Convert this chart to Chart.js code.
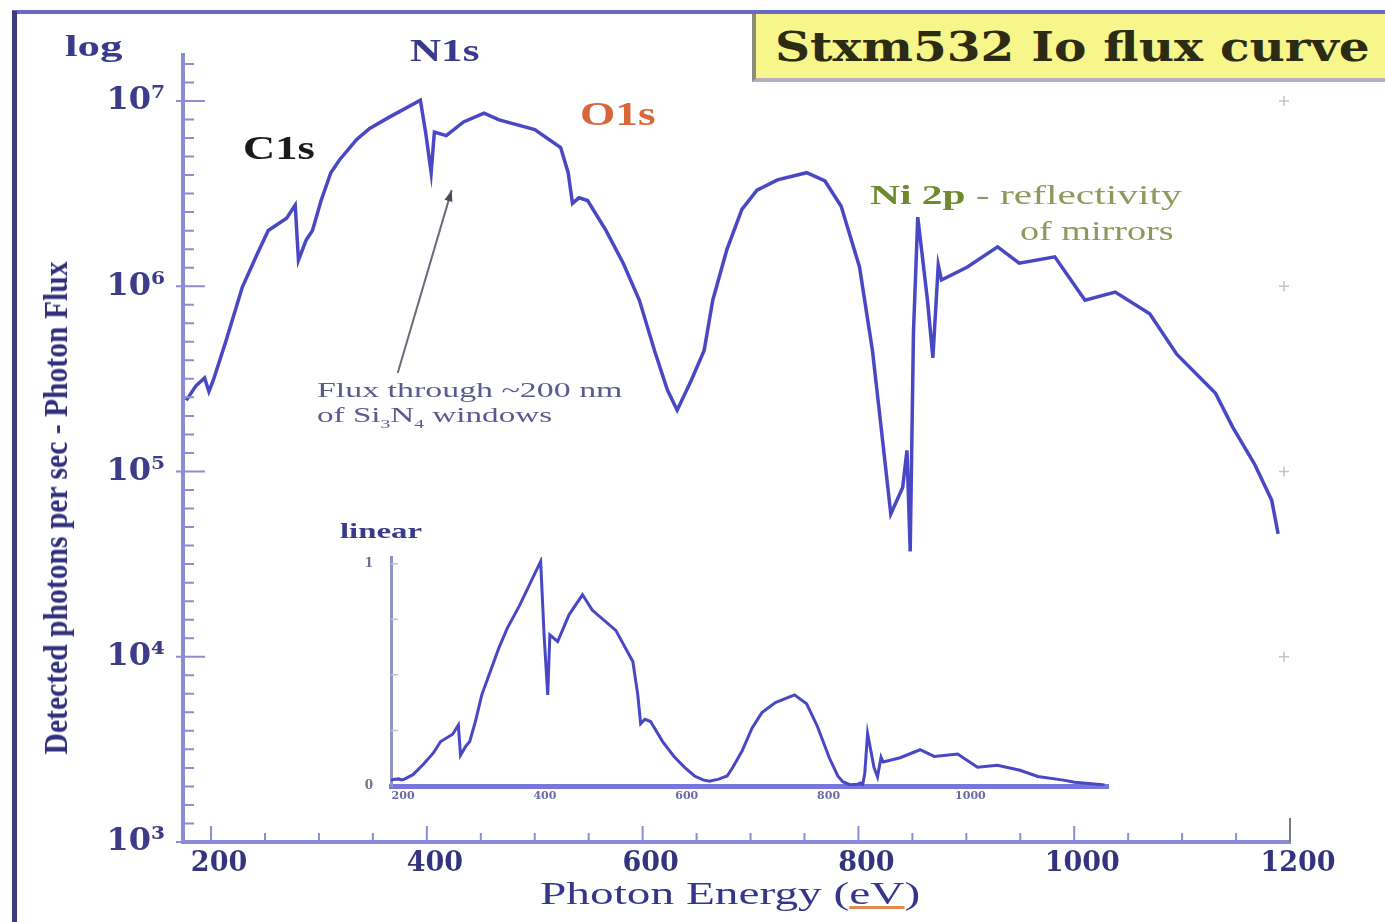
<!DOCTYPE html>
<html>
<head>
<meta charset="utf-8">
<script src="https://cdn.jsdelivr.net/npm/chart.js@4.4.0/dist/chart.umd.min.js"></script>
<style>
  body { margin: 0; background: #fff; }
  #wrap { position: relative; width: 1385px; height: 922px; overflow: hidden; background: #fff; }
  canvas { position: absolute; }
  #main { left: 0; top: 0; }
  #inset { left: 330px; top: 500px; }
  .frameLeft { position: absolute; left: 12px; top: 11px; width: 5px; height: 911px; background: #3c3c80; }
  .frameTop { position: absolute; left: 12px; top: 10px; width: 1373px; height: 4px; background: #6a6ac4; }
  #titleBox { position: absolute; left: 752px; top: 14px; width: 633px; height: 64px;
    background: #f6f68a; border-left: 4px solid #8c8c78; border-bottom: 4px solid #b6aec0; }
  .note { position: absolute; white-space: nowrap; transform-origin: left center; line-height: 1; }
  #yTitle { transform-origin: center center; }
  .serif { font-family: "Liberation Serif", "DejaVu Serif", serif; }
  .wide { font-family: "DejaVu Serif", serif; }
</style>
</head>
<body>
<div id="wrap">
  <canvas id="main" width="1385" height="922"></canvas>
  <canvas id="inset" width="800" height="320"></canvas>
  <div class="frameTop"></div>
  <div class="frameLeft"></div>
  <div id="titleBox"></div>

  <div class="note wide" data-x="775" data-y="47" data-w="595" style="font-size:41px;font-weight:bold;color:#2c2c14">Stxm532 Io flux curve</div>
  <div class="note serif" data-x="65" data-y="46" data-w="57" style="font-size:30px;font-weight:bold;color:#3a3a8c">log</div>
  <div class="note serif" data-x="410" data-y="50" data-w="70" style="font-size:32px;font-weight:bold;color:#3a3a8c">N1s</div>
  <div class="note serif" data-x="243" data-y="148" data-w="72" style="font-size:34px;font-weight:bold;color:#1a1a1a">C1s</div>
  <div class="note serif" data-x="580" data-y="114" data-w="76" style="font-size:34px;font-weight:bold;color:#d8663a">O1s</div>
  <div class="note serif" data-x="870" data-y="195" data-w="312" style="font-size:28px;color:#8c9a5c"><b style="color:#6f8a2e">Ni 2p</b> - reflectivity</div>
  <div class="note serif" data-x="1020" data-y="231" data-w="154" style="font-size:28px;color:#8c9a5c">of mirrors</div>
  <div class="note serif" data-x="317" data-y="390" data-w="305" style="font-size:22px;color:#5a5a8c">Flux through ~200 nm</div>
  <div class="note serif" data-x="317" data-y="417" data-w="235" style="font-size:22px;color:#5a5a8c">of Si<sub style="font-size:13px">3</sub>N<sub style="font-size:13px">4</sub> windows</div>
  <div class="note serif" data-x="340" data-y="531" data-w="82" style="font-size:22px;font-weight:bold;color:#3a3a8c">linear</div>
  <div class="note serif" data-x="540" data-y="893" data-w="380" style="font-size:32px;color:#35358c">Photon Energy (<span style="text-decoration:underline;text-decoration-color:#e08a50">eV</span>)</div>
  <div class="note serif" id="yTitle" style="font-size:34px;font-weight:bold;color:#30307e">Detected photons per sec - Photon Flux</div>
</div>

<script>
// Io flux of the beamline, read as photon energy (eV) vs detected photons per second
const energy = [177, 186, 194, 198, 202, 214, 229, 243, 253, 270, 278, 281, 288, 294, 302, 311, 319,
  335, 347, 364, 394, 399, 404, 407, 418, 434, 453, 467, 500, 524, 531, 535, 541, 549, 566, 582,
  597, 611, 623, 632, 645, 657, 665, 678, 692, 706, 725, 752, 769, 784, 801, 813, 820, 830, 841,
  845, 848, 851, 855, 864, 869, 874, 877, 901, 929, 949, 982, 1010, 1038, 1070, 1095, 1131, 1147,
  1167, 1183, 1189];
const flux = [2.42e5, 2.9e5, 3.2e5, 2.7e5, 3.1e5, 5.1e5, 9.9e5, 1.5e6, 2.0e6, 2.33e6, 2.74e6, 1.38e6,
  1.77e6, 2.0e6, 2.9e6, 4.1e6, 4.8e6, 6.2e6, 7.1e6, 8.1e6, 1.01e7, 6.7e6, 4.1e6, 6.8e6, 6.5e6,
  7.7e6, 8.6e6, 7.9e6, 7.0e6, 5.6e6, 4.1e6, 2.8e6, 3.0e6, 2.9e6, 2.0e6, 1.33e6,
  8.4e5, 4.5e5, 2.75e5, 2.14e5, 3.1e5, 4.5e5, 8.4e5, 1.57e6, 2.6e6, 3.3e6, 3.75e6, 4.1e6, 3.7e6,
  2.7e6, 1.27e6, 4.5e5, 1.96e5, 5.9e4, 8.2e4, 1.3e5, 3.7e4, 5.6e5, 2.36e6, 8.4e5, 4.1e5, 1.3e6,
  1.08e6, 1.27e6, 1.63e6, 1.33e6, 1.44e6, 8.4e5, 9.3e5, 7.1e5, 4.3e5, 2.64e5, 1.73e5, 1.1e5,
  7.0e4, 4.6e4];

// axis ticks
const xMajor = [200, 400, 600, 800, 1000, 1200];
const yDecades = [1e3, 1e4, 1e5, 1e6, 1e7];
const supDigits = { 3: '\u00b3', 4: '\u2074', 5: '\u2075', 6: '\u2076', 7: '\u2077' };
const insetXTicks = [200, 400, 600, 800, 1000];
const insetXLabels = ['200', '400', '600', '800', '1000'];
const insetYTicks = [0, 1e7];
const insetYLabels = ['0', '1'];

// arrow for the Si3N4 window note: [eV, flux] tail and head
const arrowFrom = [373, 3.4e5];
const arrowTo = [423, 3.3e6];

const LINE = '#4848c4';
const AXIS = '#8c8cd6';
const points = energy.map((e, i) => ({ x: e, y: flux[i] }));

// tick marks drawn inside the plot, plus the note arrow
const innerTicks = {
  id: 'innerTicks',
  afterDraw(chart) {
    const { ctx, scales: { x, y }, chartArea: a } = chart;
    ctx.save();
    ctx.strokeStyle = AXIS;
    ctx.lineWidth = 2;
    ctx.beginPath();
    for (let v = 200; v < 1200; v += 50) {
      const px = x.getPixelForValue(v);
      const len = v % 200 === 0 ? 16 : 9;
      ctx.moveTo(px, a.bottom);
      ctx.lineTo(px, a.bottom - len);
    }
    for (let p = 3; p < 7.25; p += 0.1) {
      const py = y.getPixelForValue(Math.pow(10, p));
      const major = Math.abs(p - Math.round(p)) < 1e-6;
      ctx.moveTo(major ? a.left - 7 : a.left, py);
      ctx.lineTo(a.left + (major ? 22 : 11), py);
    }
    ctx.stroke();

    // end tick at 1200 eV
    ctx.strokeStyle = '#7a7a88';
    ctx.beginPath();
    const endX = x.getPixelForValue(1200);
    ctx.moveTo(endX, a.bottom);
    ctx.lineTo(endX, a.bottom - 24);
    ctx.stroke();

    // faint marks on the right side
    ctx.strokeStyle = '#c4c4c4';
    ctx.lineWidth = 1.5;
    ctx.beginPath();
    yDecades.slice(1).forEach(d => {
      const py = y.getPixelForValue(d);
      ctx.moveTo(a.right - 11, py);
      ctx.lineTo(a.right - 1, py);
      ctx.moveTo(a.right - 6, py - 5);
      ctx.lineTo(a.right - 6, py + 5);
    });
    ctx.stroke();

    // arrow
    const x0 = x.getPixelForValue(arrowFrom[0]), y0 = y.getPixelForValue(arrowFrom[1]);
    const x1 = x.getPixelForValue(arrowTo[0]), y1 = y.getPixelForValue(arrowTo[1]);
    const ang = Math.atan2(y1 - y0, x1 - x0);
    ctx.strokeStyle = '#6a6a78';
    ctx.fillStyle = '#4a4a5a';
    ctx.lineWidth = 2;
    ctx.beginPath();
    ctx.moveTo(x0, y0);
    ctx.lineTo(x1, y1);
    ctx.stroke();
    ctx.beginPath();
    ctx.moveTo(x1, y1);
    ctx.lineTo(x1 - 12 * Math.cos(ang - 0.35), y1 - 12 * Math.sin(ang - 0.35));
    ctx.lineTo(x1 - 12 * Math.cos(ang + 0.35), y1 - 12 * Math.sin(ang + 0.35));
    ctx.closePath();
    ctx.fill();
    ctx.restore();
  }
};

new Chart(document.getElementById('main'), {
  type: 'line',
  data: {
    datasets: [{
      data: points,
      borderColor: LINE,
      borderWidth: 3.5,
      pointRadius: 0,
      tension: 0,
      fill: false
    }]
  },
  options: {
    responsive: false,
    animation: false,
    layout: { padding: { left: 0, top: 55, right: 95, bottom: 0 } },
    plugins: { legend: { display: false }, tooltip: { enabled: false } },
    scales: {
      x: {
        type: 'linear',
        min: 174,
        max: 1200,
        afterBuildTicks: s => { s.ticks = xMajor.map(v => ({ value: v })); },
        afterFit: s => { s.height = 80; },
        grid: { display: false, drawTicks: false },
        border: { color: AXIS, width: 4 },
        ticks: {
          padding: 6,
          labelOffset: 8,
          maxRotation: 0,
          color: '#34347e',
          font: { family: 'DejaVu Serif', size: 27, weight: 'bold' },
          callback: v => String(v)
        }
      },
      y: {
        type: 'logarithmic',
        min: 1e3,
        max: 1.77e7,
        afterBuildTicks: s => { s.ticks = yDecades.map(v => ({ value: v })); },
        afterFit: s => { s.width = 183; },
        grid: { display: false, drawTicks: false },
        border: { color: AXIS, width: 4 },
        ticks: {
          padding: 18,
          color: '#3c3c88',
          font: { family: 'DejaVu Serif', size: 32, weight: 'bold' },
          callback: v => '10' + supDigits[Math.round(Math.log10(v))]
        }
      }
    }
  },
  plugins: [innerTicks]
});

// small linear-scale copy of the same curve
const insetTicks = {
  id: 'insetTicks',
  afterDraw(chart) {
    const { ctx, scales: { y }, chartArea: a } = chart;
    ctx.save();
    ctx.strokeStyle = '#c0c0dc';
    ctx.lineWidth = 1.5;
    ctx.beginPath();
    [0.25e7, 0.5e7, 0.75e7, 1e7].forEach(v => {
      const py = y.getPixelForValue(v);
      ctx.moveTo(a.left, py);
      ctx.lineTo(a.left + 7, py);
    });
    ctx.stroke();
    ctx.restore();
  }
};

new Chart(document.getElementById('inset'), {
  type: 'line',
  data: {
    datasets: [{
      data: points,
      borderColor: LINE,
      borderWidth: 3,
      pointRadius: 0,
      tension: 0,
      fill: false
    }]
  },
  options: {
    responsive: false,
    animation: false,
    layout: { padding: { left: 0, top: 57, right: 22, bottom: 0 } },
    plugins: { legend: { display: false }, tooltip: { enabled: false } },
    scales: {
      x: {
        type: 'linear',
        min: 183,
        max: 1194,
        afterBuildTicks: s => { s.ticks = insetXTicks.map(v => ({ value: v })); },
        afterFit: s => { s.height = 34; },
        grid: { display: false, drawTicks: false },
        border: { color: '#7676dc', width: 5 },
        ticks: {
          padding: 4,
          maxRotation: 0,
          color: '#6a6aa4',
          font: { family: 'DejaVu Serif', size: 11, weight: 'bold' },
          callback: (v, i) => insetXLabels[i]
        }
      },
      y: {
        min: 0,
        max: 1.03e7,
        afterBuildTicks: s => { s.ticks = insetYTicks.map(v => ({ value: v })); },
        afterFit: s => { s.width = 61; },
        grid: { display: false, drawTicks: false },
        border: { color: '#9494c4', width: 3 },
        ticks: {
          padding: 18,
          color: '#707090',
          font: { family: 'DejaVu Serif', size: 12, weight: 'bold' },
          callback: (v, i) => insetYLabels[i]
        }
      }
    }
  },
  plugins: [insetTicks]
});

// place the text notes and squeeze them to their widths
document.querySelectorAll('.note[data-x]').forEach(el => {
  el.style.left = el.dataset.x + 'px';
  el.style.top = el.dataset.y + 'px';
  const k = +el.dataset.w / el.offsetWidth;
  el.style.transform = `translateY(-50%) scaleX(${k})`;
});
const yt = document.getElementById('yTitle');
yt.style.left = '56px';
yt.style.top = '508px';
const ky = 493 / yt.offsetWidth;
yt.style.transform = `translate(-50%, -50%) rotate(-90deg) scaleX(${ky})`;
</script>
</body>
</html>
